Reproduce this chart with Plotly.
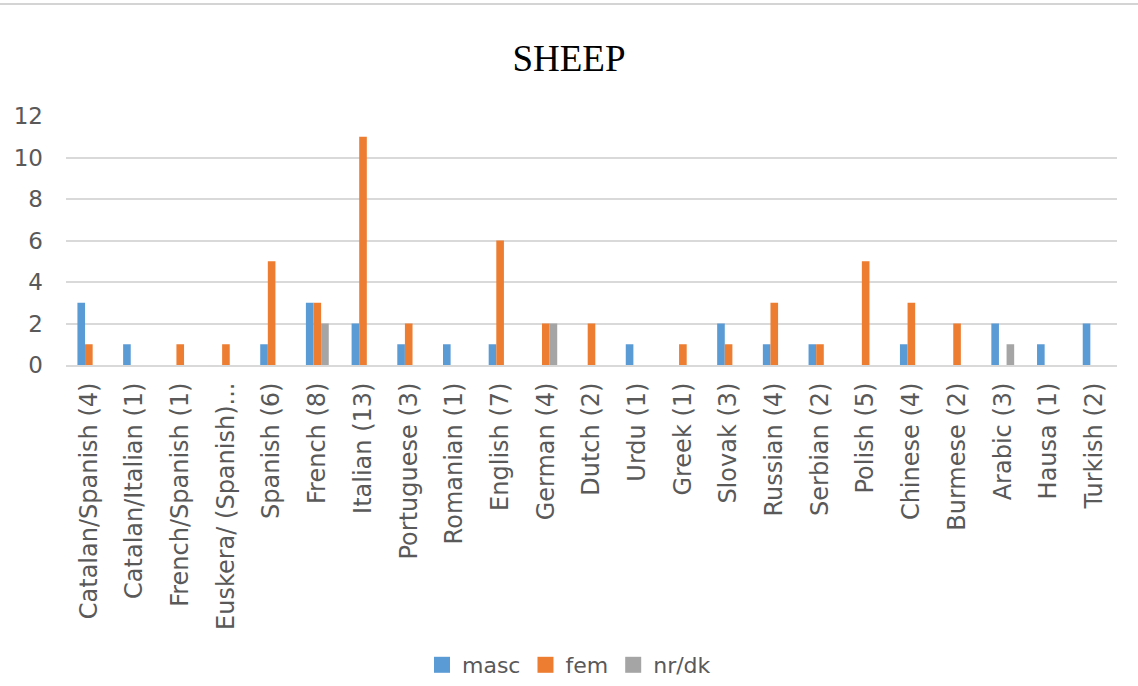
import plotly.graph_objects as go

categories = [
    "Catalan/Spanish (4)", "Catalan/Italian (1)", "French/Spanish (1)",
    "Euskera/ (Spanish)...", "Spanish (6)", "French (8)", "Italian (13)",
    "Portuguese (3)", "Romanian (1)", "English (7)", "German (4)", "Dutch (2)",
    "Urdu (1)", "Greek (1)", "Slovak (3)", "Russian (4)", "Serbian (2)",
    "Polish (5)", "Chinese (4)", "Burmese (2)", "Arabic (3)", "Hausa (1)",
    "Turkish (2)",
]
masc = [3, 1, 0, 0, 1, 3, 2, 1, 1, 1, 0, 0, 1, 0, 2, 1, 1, 0, 1, 0, 2, 1, 2]
fem = [1, 0, 1, 1, 5, 3, 11, 2, 0, 6, 2, 2, 0, 1, 1, 3, 1, 5, 3, 2, 0, 0, 0]
nr_dk = [0, 0, 0, 0, 0, 2, 0, 0, 0, 0, 2, 0, 0, 0, 0, 0, 0, 0, 0, 0, 1, 0, 0]
y_ticks = [0, 2, 4, 6, 8, 10, 12]

W, H = 1138, 686
L, R, T, B = 66, 21, 116, 321
plot_w = W - L - R
plot_h = H - T - B

font_main = "DejaVu Sans, Verdana, sans-serif"
grey_text = "#595959"

series = [
    ("masc", masc, "#5B9BD5"),
    ("fem", fem, "#ED7D31"),
    ("nr/dk", nr_dk, "#A5A5A5"),
]

fig = go.Figure()
for name, vals, color in series:
    fig.add_trace(go.Bar(
        x=categories, y=vals, name=name, showlegend=False,
        marker=dict(color=color, line=dict(width=0)),
    ))
# legend entries with larger square swatches
for name, vals, color in series:
    fig.add_trace(go.Scatter(
        x=[None], y=[None], name=name, mode="markers",
        marker=dict(symbol="square", size=16, color=color,
                    line=dict(width=0)),
    ))

fig.update_layout(
    width=W, height=H,
    margin=dict(l=L, r=R, t=T, b=B, autoexpand=False),
    paper_bgcolor="white", plot_bgcolor="white",
    barmode="group", bargap=0.5, bargroupgap=0,
    title=dict(
        text="SHEEP", x=0.5, xanchor="center",
        y=1 - 58 / H, yanchor="middle", yref="container",
        font=dict(family="Liberation Serif, serif", size=37, color="#000000"),
    ),
    font=dict(family=font_main, color=grey_text),
    showlegend=True,
    legend=dict(
        orientation="h", x=0.5, xref="container", xanchor="center",
        y=1 - 665 / H, yref="container", yanchor="middle",
        font=dict(size=22, color=grey_text),
        itemwidth=30, traceorder="normal",
    ),
    xaxis=dict(
        tickangle=-90, tickfont=dict(size=24, color=grey_text),
        showgrid=False, showline=True, linecolor="#d9d9d9", linewidth=2,
        ticks="", ticklabelstandoff=6,
    ),
    yaxis=dict(
        range=[0, 12], tickvals=y_ticks,
        tickfont=dict(size=23, color=grey_text),
        showgrid=True, gridcolor="#d9d9d9", gridwidth=1.5,
        zeroline=False, showline=False, ticks="",
        ticklabelstandoff=22,
    ),
)

# thin border line along the top edge of the chart
fig.add_shape(
    type="line", xref="paper", yref="paper",
    x0=-L / plot_w, x1=1 + R / plot_w,
    y0=1 + (T - 4) / plot_h, y1=1 + (T - 4) / plot_h,
    line=dict(color="#d4d4d4", width=2),
)

fig.write_html("out.html")
